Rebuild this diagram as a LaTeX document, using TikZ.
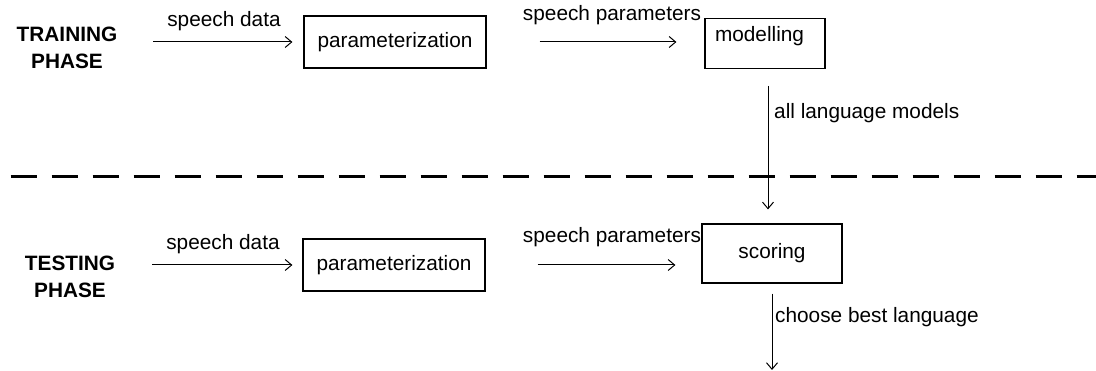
\documentclass[tikz,border=0pt]{standalone}
\usepackage{fontspec}
\setmainfont{Liberation Sans}
\usetikzlibrary{arrows.meta}

\begin{document}
\begin{tikzpicture}[x=1pt, y=-1pt,
	every node/.style={font=\fontsize{20.8}{27}\selectfont},
	box/.style={draw, line width=1.2pt, inner sep=0pt},
	arr/.style={line width=1pt, -{Straight Barb[length=6.5pt, width=11pt]}},
	lbl/.style={anchor=base, inner sep=0pt},
	phase/.style={align=center, inner sep=0pt, font=\fontsize{20.8}{27}\selectfont\bfseries}]
	\useasboundingbox (0, 0) rectangle (1096, 371);
	\node[phase] (train) at (67, 47.5) {TRAINING\\PHASE};
	\node[phase] (test) at (70, 277) {TESTING\\PHASE};
	\node[box, minimum width=182pt, minimum height=52pt] (tpar) at (395, 42) {parameterization};
	\node[box, inner xsep=10pt, text width=100pt, text height=23.2pt, text depth=26.8pt] (tmod) at (765, 43.3) {modelling};
	\node[box, minimum width=182pt, minimum height=52pt] (spar) at (394, 265) {parameterization};
	\node[box, minimum width=140pt, minimum height=59pt] (score) at (772, 253.5) {scoring};
	\node[lbl] (tdatl) at (224, 27) {speech data};
	\node[lbl] (tparl) at (612, 20.5) {speech parameters};
	\node[lbl, anchor=base west] (modl) at (774, 119) {all language models};
	\node[lbl] (sdatl) at (223, 250) {speech data};
	\node[lbl] (sparl) at (612, 243) {speech parameters};
	\node[lbl, anchor=base west] (bestl) at (775, 323) {choose best language};
	\coordinate (tsrc) at (153, 42);
	\coordinate (ssrc) at (152, 265);
	\coordinate (send) at (772, 370);
	\draw[line width=3pt, dash pattern=on 26.6pt off 14.4pt] (10.7, 176.5) -- (1096, 176.5);
	\draw[arr, shorten >=11pt] (tsrc) -- (tpar.west);
	\draw[arr, shorten <=53pt, shorten >=28pt] (tpar.east) -- (tpar.east -| tmod.west);
	\draw[arr, shorten <=17pt, shorten >=14pt] ([xshift=3pt]tmod.south) -- ([xshift=3pt]tmod.south |- score.north);
	\draw[arr, shorten >=10pt] (ssrc) -- (spar.west);
	\draw[arr, shorten <=52pt, shorten >=26pt] (spar.east) -- (spar.east -| score.west);
	\draw[arr, shorten <=10pt] (score.south) -- (send);
\end{tikzpicture}
\end{document}
